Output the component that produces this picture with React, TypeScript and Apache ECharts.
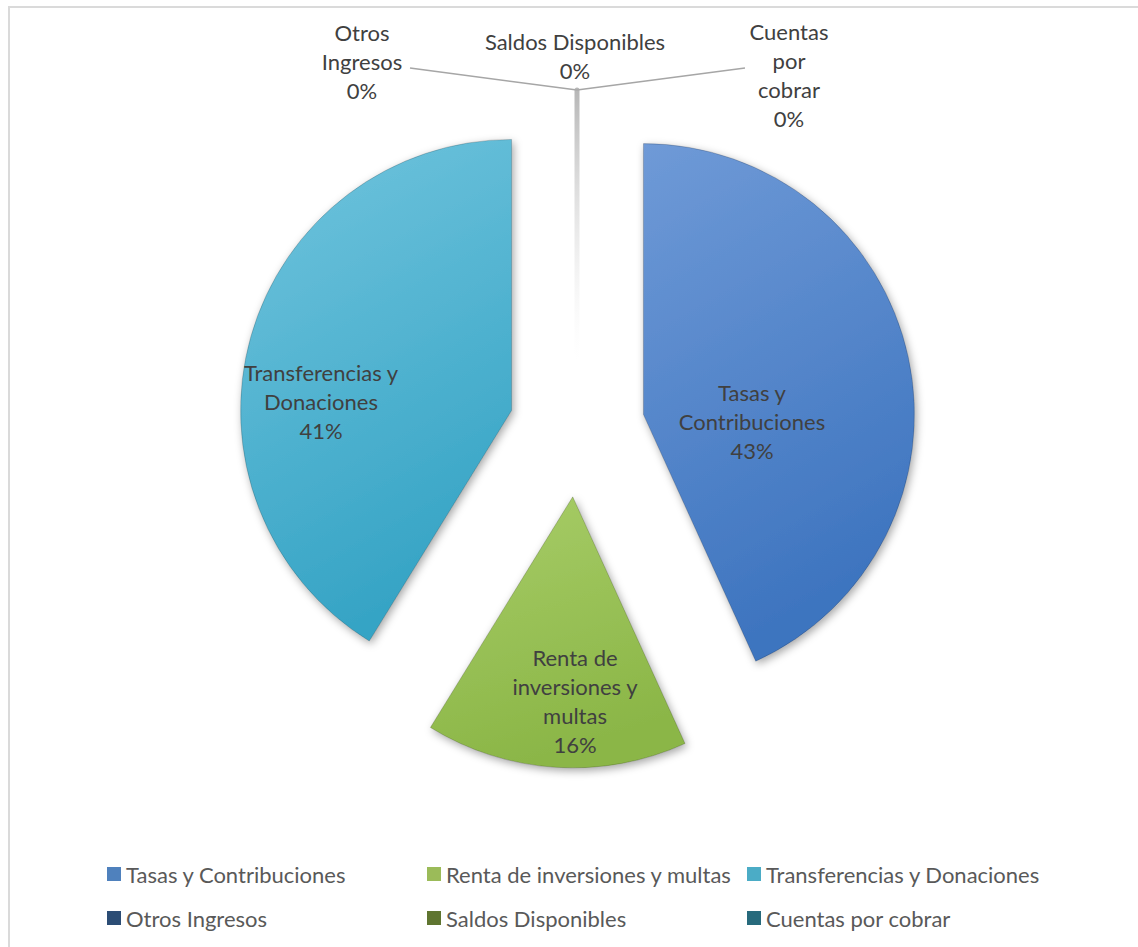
import React, { useEffect, useRef } from "react";
import * as echarts from "echarts";

// ---- data ----
const categories = [
  "Tasas y Contribuciones",
  "Renta de inversiones y multas",
  "Transferencias y Donaciones",
  "Otros Ingresos",
  "Saldos Disponibles",
  "Cuentas por cobrar",
];
const values = [43.2, 15.6, 41.2, 0, 0, 0];
const wrappedLabels = [
  "Tasas y\nContribuciones",
  "Renta de\ninversiones y\nmultas",
  "Transferencias y\nDonaciones",
  "Otros\nIngresos",
  "Saldos Disponibles",
  "Cuentas\npor\ncobrar",
];

// ---- styles / layout ----
const sliceTop = ["#6f9ad7", "#a8cd68", "#72c5de", "#2c4d75", "#5f7530", "#276a7c"];
const sliceBottom = ["#3d74bf", "#8bb647", "#36a4c5", "#2c4d75", "#5f7530", "#276a7c"];
const legendColors = ["#4f81bd", "#9bbb59", "#4bacc6", "#2c4d75", "#5f7530", "#276a7c"];
const FONT = "Lato, 'Open Sans', sans-serif";
const FONT_SIZE = 22;

const CENTER: [number, number] = [577, 429];
const RADIUS = 271;
const EXPLODE = 68;
const labelPos: [number, number][] = [
  [752, 421],
  [575, 701],
  [321, 401],
  [362, 61],
  [575, 56],
  [789, 75],
];
const leaderEnd: ([number, number] | null)[] = [null, null, null, [410, 68], null, [745, 68]];

export default function App() {
  const ref = useRef<HTMLDivElement>(null);

  useEffect(() => {
    if (!ref.current) return;
    const chart = echarts.init(ref.current, undefined, { renderer: "svg" });

    const total = values.reduce((a, b) => a + b, 0);
    let acc = 0;
    const centers: [number, number][] = values.map((v) => {
      const mid = ((acc + v / 2) / total) * 2 * Math.PI;
      acc += v;
      return [CENTER[0] + EXPLODE * Math.sin(mid), CENTER[1] - EXPLODE * Math.cos(mid)];
    });

    const series = categories.map((_, owner) => {
      const c = centers[owner];
      const tip: [number, number] = [c[0], c[1] - RADIUS];
      const data = categories.map((name, i) => {
        if (i !== owner) {
          return {
            name,
            value: values[i],
            itemStyle: { color: "rgba(0,0,0,0)", borderWidth: 0, opacity: 0 },
            label: { show: false },
            labelLine: { show: false },
          };
        }
        const isZero = values[i] === 0;
        const itemStyle: any = isZero
          ? {
              color: legendColors[i],
              borderWidth: i === 4 ? 5 : 0,
              borderColor: {
                type: "linear",
                x: 0,
                y: c[1] - RADIUS,
                x2: 0,
                y2: c[1],
                global: true,
                colorStops: [
                  { offset: 0, color: "rgba(170,170,170,0.85)" },
                  { offset: 1, color: "rgba(235,235,235,0)" },
                ],
              },
            }
          : {
              color: {
                type: "linear",
                x: 0,
                y: 0,
                x2: 0.3,
                y2: 1,
                colorStops: [
                  { offset: 0, color: sliceTop[i] },
                  { offset: 1, color: sliceBottom[i] },
                ],
              },
              borderColor: "rgba(0,0,0,0.18)",
              borderWidth: 1,
              shadowBlur: 8,
              shadowColor: "rgba(0,0,0,0.35)",
              shadowOffsetX: 2,
              shadowOffsetY: 3,
            };
        return {
          name,
          value: values[i],
          itemStyle,
          label: { show: true, position: isZero ? "outside" : "inside" },
          labelLine: {
            show: leaderEnd[i] != null,
            lineStyle: { color: "#a6a6a6", width: 1.5 },
          },
        };
      });
      return {
        type: "pie",
        name: categories[owner],
        center: c,
        radius: RADIUS,
        startAngle: 90,
        clockwise: true,
        avoidLabelOverlap: false,
        emphasis: { disabled: true },
        silent: true,
        z: values[owner] === 0 ? 1 : 2,
        label: {
          color: "#404040",
          fontSize: FONT_SIZE,
          lineHeight: 29,
          fontFamily: FONT,
          align: "center",
          formatter: (p: any) =>
            wrappedLabels[p.dataIndex] + "\n" + Math.round(p.percent) + "%",
        },
        labelLayout: (p: any) => {
          const i = p.dataIndex;
          if (i !== owner) return {};
          const out: any = {
            x: labelPos[i][0],
            y: labelPos[i][1],
            align: "center",
            verticalAlign: "middle",
          };
          const end = leaderEnd[i];
          if (end) out.labelLinePoints = [tip, end, end];
          return out;
        },
        data,
      };
    });

    chart.setOption({
      animation: false,
      backgroundColor: "#ffffff",
      legend: {
        data: categories.map((name, i) => ({
          name,
          itemStyle: { color: legendColors[i], borderWidth: 0, opacity: 1 },
        })),
        left: 102,
        top: 852,
        width: 990,
        orient: "horizontal",
        icon: "rect",
        itemWidth: 14,
        itemHeight: 14,
        itemGap: 10,
        selectedMode: false,
        textStyle: {
          color: "#595959",
          fontSize: FONT_SIZE,
          fontFamily: FONT,
          width: 291,
          lineHeight: 34,
        },
      },
      series,
    });

    return () => chart.dispose();
  }, []);

  return (
    <>
      <div
        style={{
          position: "absolute",
          left: 0,
          top: 0,
          width: 1138,
          height: 947,
        }}
        ref={ref}
      />
      <div
        style={{
          position: "absolute",
          left: 8,
          top: 6,
          width: 1130,
          height: 941,
          borderLeft: "2px solid #dadada",
          borderTop: "2px solid #dadada",
          boxSizing: "border-box",
          pointerEvents: "none",
        }}
      />
    </>
  );
}
